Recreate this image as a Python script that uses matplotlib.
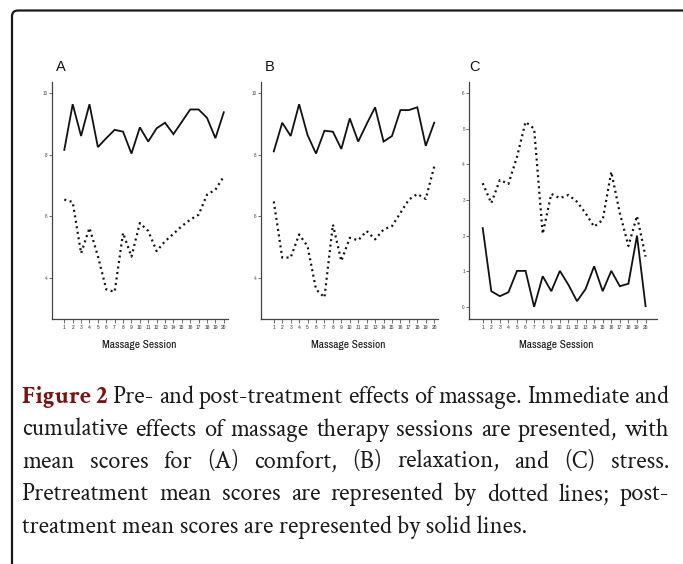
import matplotlib
matplotlib.use("Agg")
import matplotlib.pyplot as plt
from matplotlib.patches import FancyBboxPatch
from matplotlib import font_manager

# ---------------- data ----------------
sessions = list(range(1, 21))

comfort_post = [8.15, 9.63, 8.60, 9.63, 8.24, 8.53, 8.80, 8.74, 8.03, 8.88,
                8.42, 8.85, 9.03, 8.66, 9.06, 9.46, 9.46, 9.19, 8.53, 9.37]
comfort_pre = [6.54, 6.46, 4.80, 5.62, 4.71, 3.63, 3.55, 5.46, 4.69, 5.78,
               5.52, 4.87, 5.19, 5.43, 5.68, 5.89, 6.05, 6.70, 6.86, 7.29]

relax_post = [8.10, 9.03, 8.60, 9.63, 8.63, 8.03, 8.77, 8.74, 8.18, 9.17,
              8.42, 8.99, 9.53, 8.42, 8.60, 9.44, 9.44, 9.53, 8.28, 9.03]
relax_pre = [6.48, 4.66, 4.66, 5.41, 5.03, 3.63, 3.37, 5.73, 4.55, 5.30,
             5.22, 5.52, 5.25, 5.57, 5.68, 6.11, 6.54, 6.72, 6.56, 7.61]

stress_post = [2.21, 0.44, 0.30, 0.41, 1.01, 1.01, 0.00, 0.86, 0.44, 1.01,
               0.62, 0.16, 0.50, 1.14, 0.44, 1.01, 0.58, 0.65, 2.00, 0.02]
stress_pre = [3.47, 2.91, 3.56, 3.45, 4.21, 5.19, 5.00, 2.05, 3.17, 3.05,
              3.14, 2.95, 2.63, 2.25, 2.44, 3.79, 2.63, 1.71, 2.55, 1.41]

panel_labels = ["A", "B", "C"]
yticks_ab = [4, 6, 8, 10]
yticks_c = [0, 1, 2, 3, 4, 5, 6]
xlabel = "Massage Session"

caption_lines = [
    [("Figure 2", "bold"), ("Pre-", None), ("and", None), ("post-treatment", None),
     ("effects", None), ("of", None), ("massage.", None), ("Immediate", None), ("and", None)],
    "cumulative effects of massage therapy sessions are presented, with",
    "mean scores for (A) comfort, (B) relaxation, and (C) stress.",
    "Pretreatment mean scores are represented by dotted lines; post-",
]
caption_last = "treatment mean scores are represented by solid lines."

# ---------------- fonts ----------------
names = {f.name for f in font_manager.fontManager.ttflist}
narrow = "Archivo Narrow" if "Archivo Narrow" in names else "Liberation Sans"
serif = "Crimson Text" if "Crimson Text" in names else "Liberation Serif"

W, H = 683, 564
fig = plt.figure(figsize=(W / 100, H / 100), dpi=100)
fig.patch.set_facecolor("white")

ov = fig.add_axes([0, 0, 1, 1])
ov.set_xlim(0, W)
ov.set_ylim(H, 0)
ov.axis("off")
ov.set_zorder(-1)

border = FancyBboxPatch((12, 10.5), 700, 600,
                        boxstyle="round,pad=0,rounding_size=6",
                        fill=False, edgecolor="#1a1a1a", linewidth=1.6)
ov.add_patch(border)

panels = [
    (51.7, 228.0, comfort_post, comfort_pre, yticks_ab, (2.67, 10.35), (-0.5, 20.5)),
    (260.7, 438.0, relax_post, relax_pre, yticks_ab, (2.67, 10.35), (-0.55, 20.45)),
    (469.0, 656.7, stress_post, stress_pre, yticks_c, (-0.34, 6.31), (-0.6, 21.3)),
]
top_px, bot_px = 82.0, 319.0

for i, (l, r, post, pre, yt, ylim, xlim) in enumerate(panels):
    ax = fig.add_axes([l / W, 1 - bot_px / H, (r - l) / W, (bot_px - top_px) / H])
    ax.plot(sessions, post, color="#111111", linewidth=1.3, solid_joinstyle="miter")
    ax.plot(sessions, pre, color="#111111", linewidth=1.6,
            linestyle=(0, (0.9, 1.6)))
    ax.set_xlim(*xlim)
    ax.set_ylim(*ylim)
    ax.set_xticks(sessions)
    ax.set_xticklabels([str(s) for s in sessions], fontsize=4.4, color="#444444",
                       family=narrow)
    ax.set_yticks(yt)
    ax.set_yticklabels([str(v) for v in yt], fontsize=4.0, color="#555555",
                       family=narrow)
    ax.tick_params(axis="x", length=3, width=0.6, color="#555555", pad=1.5)
    ax.tick_params(axis="y", length=2, width=0.6, color="#555555", pad=1)
    for s in ["top", "right"]:
        ax.spines[s].set_visible(False)
    for s in ["left", "bottom"]:
        ax.spines[s].set_color("#444444")
        ax.spines[s].set_linewidth(0.9)
    ax.set_facecolor("none")

    ov.text(l + 9 if i < 2 else l + 6, 67, panel_labels[i], fontsize=10.5,
            family="Liberation Sans", ha="center", va="center", color="#111111")
    ov.text(l + 87, 345, xlabel, fontsize=8.2, family=narrow, fontweight="medium",
            ha="center", va="center", color="#111111")

# ---------------- caption ----------------
renderer = fig.canvas.get_renderer()
left, right = 22.0, 669.0
base0, step = 403.0, 32.5
red = "#7a1414"
ink = "#1a1a1a"

# size the caption font so the final (unjustified) line spans as in the reference
probe = ov.text(0, 0, caption_last, fontsize=10, family=serif)
fs = 10 * 501.0 / probe.get_window_extent(renderer).width
probe.remove()

for li, line in enumerate(caption_lines):
    y = base0 + li * step
    if isinstance(line, str):
        tokens = [(w, None) for w in line.split(" ")]
    else:
        tokens = line
    texts = []
    for txt, style in tokens:
        t = ov.text(0, y, txt, fontsize=fs, family=serif, va="baseline", ha="left",
                    fontweight="bold" if style == "bold" else "normal",
                    color=red if style == "bold" else ink)
        texts.append(t)
    widths = [t.get_window_extent(renderer).width for t in texts]
    gap = (right - left - sum(widths)) / (len(texts) - 1)
    x = left
    for t, w in zip(texts, widths):
        t.set_x(x)
        x += w + gap

ov.text(left, base0 + 4 * step, caption_last, fontsize=fs, family=serif,
        va="baseline", ha="left", color=ink)

fig.savefig("out.png", dpi=100, facecolor="white")
